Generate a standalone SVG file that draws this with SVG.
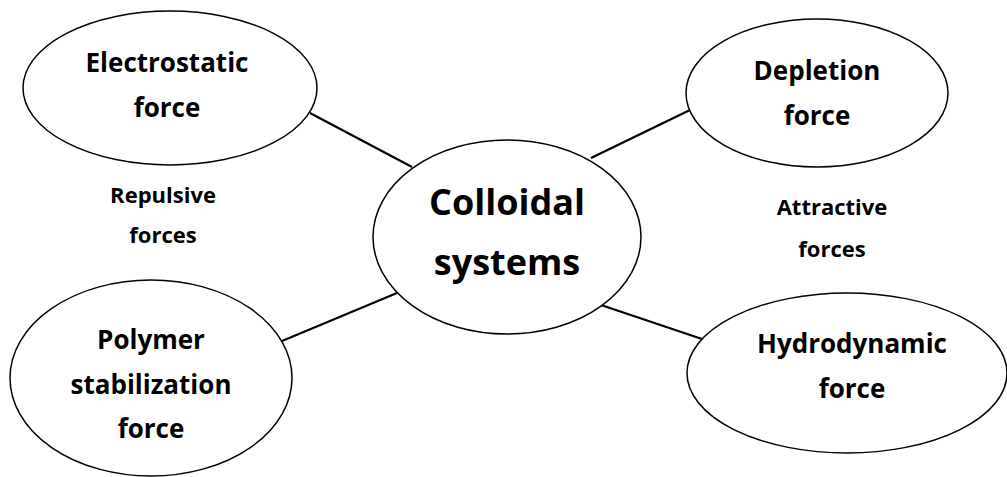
<svg xmlns="http://www.w3.org/2000/svg" width="1007" height="477" viewBox="0 0 1007 477">
<style>
.n{fill:#fff;stroke:#000;stroke-width:1.5}
.t{font-family:"Open Sans","Liberation Sans",sans-serif;font-weight:bold;fill:#000;text-anchor:middle}
.m{font-size:26px}
.s{font-size:22px}
.b{font-size:36px}
.c{stroke:#000;stroke-width:2.2;fill:none}
</style>
<rect width="1007" height="477" fill="#fff"/>
<g id="connectors">
<line class="c" x1="310" y1="113" x2="412" y2="167"/>
<line class="c" x1="690" y1="110" x2="591" y2="158"/>
<line class="c" x1="282" y1="341" x2="397" y2="293"/>
<line class="c" x1="601" y1="305" x2="702" y2="339"/>
</g>
<g id="electrostatic">
<ellipse class="n" cx="170" cy="88" rx="147" ry="77"/>
<text class="t m" x="167" y="72">Electrostatic</text>
<text class="t m" x="167" y="117">force</text>
</g>
<g id="depletion">
<ellipse class="n" cx="817" cy="93" rx="131" ry="74"/>
<text class="t m" x="817" y="80">Depletion</text>
<text class="t m" x="817" y="125">force</text>
</g>
<g id="polymer">
<ellipse class="n" cx="151" cy="378" rx="141" ry="98"/>
<text class="t m" x="151" y="349">Polymer</text>
<text class="t m" x="151" y="394">stabilization</text>
<text class="t m" x="151" y="438">force</text>
</g>
<g id="hydrodynamic">
<ellipse class="n" cx="847" cy="373" rx="160" ry="80"/>
<text class="t m" x="852" y="353">Hydrodynamic</text>
<text class="t m" x="852" y="398">force</text>
</g>
<g id="colloidal">
<ellipse class="n" cx="507" cy="237" rx="134" ry="97"/>
<text class="t b" x="507" y="215">Colloidal</text>
<text class="t b" x="507" y="275">systems</text>
</g>
<g id="labels">
<text class="t s" x="163" y="203">Repulsive</text>
<text class="t s" x="163" y="243">forces</text>
<text class="t s" x="832" y="215">Attractive</text>
<text class="t s" x="832" y="257">forces</text>
</g>
</svg>
